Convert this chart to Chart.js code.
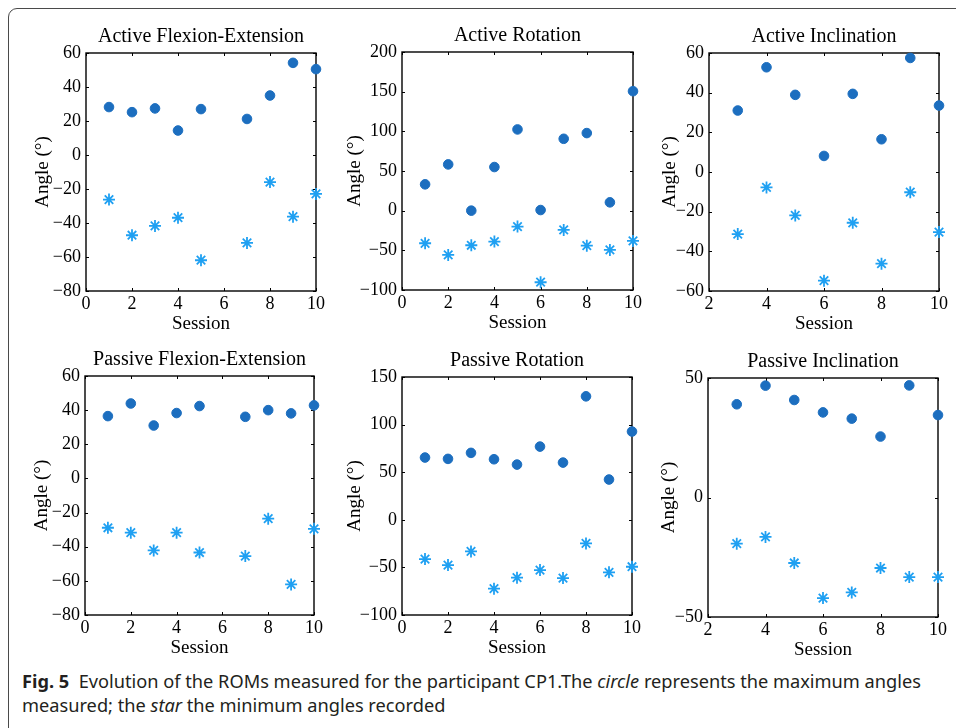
<!DOCTYPE html>
<html>
<head>
<meta charset="utf-8">
<script src="https://cdn.jsdelivr.net/npm/chart.js@4.4.1/dist/chart.umd.min.js"></script>
<style>
  html, body { margin: 0; padding: 0; background: #fff; width: 956px; height: 728px; overflow: hidden; }
  #frame { position: absolute; left: 8px; top: 8px; width: 1000px; height: 1000px;
           border: 1px solid #4a4a4a; border-radius: 9px; }
  canvas { position: absolute; }
  #caption { position: absolute; left: 22px; top: 669px; font-family: "Noto Sans", sans-serif;
             font-size: 18.5px; line-height: 24px; color: #231f20; white-space: nowrap;
             transform-origin: left top; }
  #caption b { font-weight: 700; }
</style>
</head>
<body>
<div id="frame"></div>
<div id="caption"><span id="line1"><b>Fig. 5</b>&nbsp; Evolution of the ROMs measured for the participant CP1.The <i>circle</i> represents the maximum angles</span><br>measured; the <i>star</i> the minimum angles recorded</div>

<script>
// sessions
const sessionsFlex = [1, 2, 3, 4, 5, 7, 8, 9, 10];
const sessionsRot = [1, 2, 3, 4, 5, 6, 7, 8, 9, 10];
const sessionsInc = [3, 4, 5, 6, 7, 8, 9, 10];

// angles (degrees): max = circles, min = stars
const activeFlexMax = [28.2, 25.2, 27.4, 14.4, 27.0, 21.2, 35.0, 54.2, 50.5];
const activeFlexMin = [-26.2, -47.2, -41.7, -36.9, -61.9, -51.7, -15.9, -36.3, -22.9];
const activeRotMax = [33.2, 58.3, 0, 55.0, 102.4, 0.8, 90.6, 97.8, 10.5, 150.6];
const activeRotMin = [-41.1, -55.8, -43.6, -39.0, -20.1, -90.2, -24.3, -44.1, -49.5, -38.2];
const activeIncMax = [31.0, 52.8, 38.9, 8.1, 39.4, 16.5, 57.5, 33.5];
const activeIncMin = [-31.3, -7.8, -21.9, -54.8, -25.6, -46.2, -10.2, -30.3];
const passiveFlexMax = [36.5, 43.9, 31.0, 38.3, 42.4, 36.1, 40.0, 38.1, 42.8];
const passiveFlexMin = [-28.9, -31.8, -42.2, -31.8, -43.4, -45.5, -23.6, -62.1, -29.5];
const passiveRotMax = [65.4, 64.0, 70.3, 63.6, 58.0, 76.9, 60.1, 129.7, 42.3, 92.7];
const passiveRotMin = [-41.3, -47.6, -33.2, -72.4, -60.8, -52.8, -61.2, -24.8, -55.2, -49.3];
const passiveIncMax = [39.0, 46.8, 40.8, 35.6, 33.0, 25.5, 46.9, 34.5];
const passiveIncMin = [-19.3, -16.5, -27.4, -42.1, -39.7, -29.5, -33.3, -33.3];

const titles = ['Active Flexion-Extension', 'Active Rotation', 'Active Inclination',
                'Passive Flexion-Extension', 'Passive Rotation', 'Passive Inclination'];

// axis ranges [min, max, step]
const xRanges = [[0, 10, 2], [0, 10, 2], [2, 10, 2], [0, 10, 2], [0, 10, 2], [2, 10, 2]];
const yRanges = [[-80, 60, 20], [-100, 200, 50], [-60, 60, 20], [-80, 60, 20], [-100, 150, 50], [-50, 50, 50]];

// plot-area boxes on the page: left, top, width, height, gap to y title
const boxes = [
  [86, 53, 230, 238, 43], [402, 52, 231, 238, 47], [709, 53, 230, 238, 39],
  [85, 376, 229, 239, 43], [402, 377, 230, 238, 47], [708, 378, 230, 239, 39]
];

const panels = [
  [sessionsFlex, activeFlexMax, activeFlexMin],
  [sessionsRot, activeRotMax, activeRotMin],
  [sessionsInc, activeIncMax, activeIncMin],
  [sessionsFlex, passiveFlexMax, passiveFlexMin],
  [sessionsRot, passiveRotMax, passiveRotMin],
  [sessionsInc, passiveIncMax, passiveIncMin]
];

const circleColor = '#1c6ebf';
const starColor = '#1fa0f2';
const serif = "'Liberation Serif', 'Times New Roman', serif";

// box around the plot with inward ticks on all four sides
const matlabBox = {
  id: 'matlabBox',
  beforeDatasetsDraw(chart) {
    const { ctx, chartArea: a, scales } = chart;
    ctx.save();
    ctx.strokeStyle = '#000';
    ctx.lineWidth = 1;
    const len = 3;
    ctx.beginPath();
    scales.x.ticks.forEach(t => {
      const px = Math.round(scales.x.getPixelForValue(t.value)) + 0.5;
      ctx.moveTo(px, a.bottom); ctx.lineTo(px, a.bottom - len);
      ctx.moveTo(px, a.top); ctx.lineTo(px, a.top + len);
    });
    scales.y.ticks.forEach(t => {
      const py = Math.round(scales.y.getPixelForValue(t.value)) + 0.5;
      ctx.moveTo(a.left, py); ctx.lineTo(a.left + len, py);
      ctx.moveTo(a.right, py); ctx.lineTo(a.right - len, py);
    });
    ctx.stroke();
    ctx.lineWidth = 1.4;
    ctx.strokeRect(a.left, a.top, a.right - a.left, a.bottom - a.top);
    ctx.restore();
  }
};

const toPoints = (xs, ys) => xs.map((x, i) => ({ x: x, y: ys[i] }));
const minus = v => String(v).replace('-', '\u2212');

panels.forEach((p, i) => {
  const [left, top, w, h, gap] = boxes[i];
  const yW = gap + 11;
  const titleH = 27;
  const xH = 44;
  const padR = 20;
  const cv = document.createElement('canvas');
  cv.width = yW + w + padR;
  cv.height = titleH + h + xH;
  cv.style.left = (left - yW) + 'px';
  cv.style.top = (top - titleH) + 'px';
  document.body.appendChild(cv);

  new Chart(cv.getContext('2d'), {
    type: 'scatter',
    data: {
      datasets: [
        {
          label: 'max',
          data: toPoints(p[0], p[1]),
          pointStyle: 'circle',
          radius: 4.8,
          backgroundColor: circleColor,
          borderColor: circleColor,
          borderWidth: 1,
          clip: false
        },
        {
          label: 'min',
          data: toPoints(p[0], p[2]),
          pointStyle: 'star',
          radius: 6,
          borderColor: starColor,
          backgroundColor: starColor,
          borderWidth: 1.8,
          clip: false
        }
      ]
    },
    options: {
      responsive: false,
      animation: false,
      events: [],
      layout: { padding: { top: 0, right: padR, bottom: 0, left: 0 } },
      plugins: {
        legend: { display: false },
        tooltip: { enabled: false },
        title: {
          display: true,
          text: titles[i],
          fullSize: false,
          color: '#000',
          font: { family: serif, size: 20, weight: 'normal', lineHeight: '22px' },
          padding: { top: 0, bottom: 5 }
        }
      },
      scales: {
        x: {
          type: 'linear',
          min: xRanges[i][0],
          max: xRanges[i][1],
          grid: { display: false, drawTicks: false },
          border: { display: false },
          ticks: { stepSize: xRanges[i][2], color: '#000', padding: 2,
                   font: { family: serif, size: 18 }, maxRotation: 0 },
          title: { display: true, text: 'Session', color: '#000', padding: 0,
                   font: { family: serif, size: 19, lineHeight: '22px' } },
          afterFit: s => { s.height = xH; }
        },
        y: {
          type: 'linear',
          min: yRanges[i][0],
          max: yRanges[i][1],
          grid: { display: false, drawTicks: false },
          border: { display: false },
          ticks: { stepSize: yRanges[i][2], color: '#000', padding: 5,
                   font: { family: serif, size: 18 }, callback: v => minus(v) },
          title: { display: true, text: 'Angle (\u00b0)', color: '#000', padding: 0,
                   font: { family: serif, size: 19, lineHeight: '22px' } },
          afterFit: s => { s.width = yW; }
        }
      }
    },
    plugins: [matlabBox]
  });
});

// fit caption line width to the figure
const cap = document.getElementById('caption');
const l1 = document.getElementById('line1');
const k = 899 / l1.getBoundingClientRect().width;
cap.style.transform = 'scaleX(' + k.toFixed(3) + ')';
</script>
</body>
</html>
